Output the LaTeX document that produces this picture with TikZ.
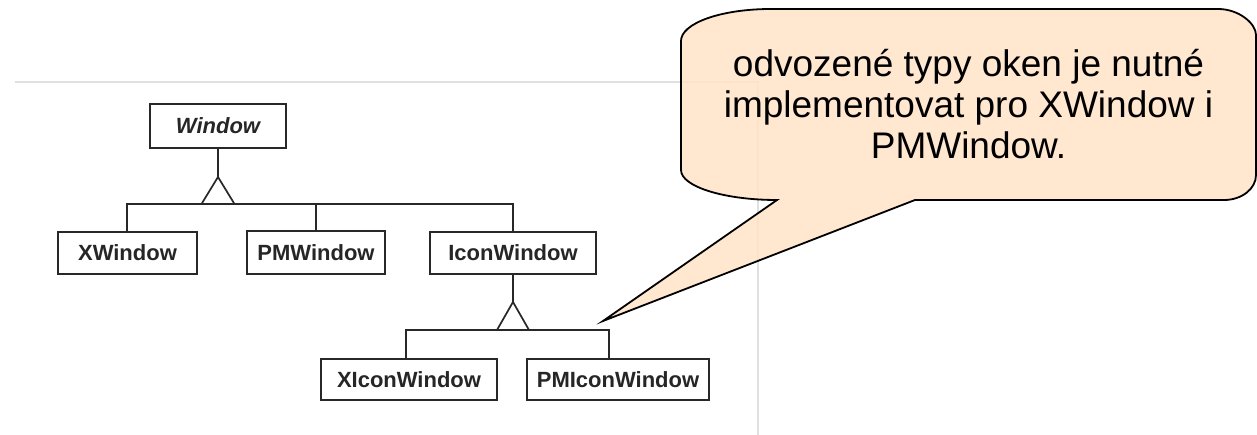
\documentclass[tikz,border=0pt]{standalone}
\usepackage{fontspec}
\setmainfont{Liberation Sans}
\newfontfamily\umlfont{Liberation Sans}
\newfontfamily\callfont{Liberation Sans}
\definecolor{calloutfill}{RGB}{255,228,201}
\definecolor{panelline}{RGB}{224,224,224}
\definecolor{umlline}{RGB}{40,40,40}
\tikzset{
  cls/.style={draw=umlline, line width=1.8pt, fill=white, inner sep=0pt,
    font=\umlfont\fontsize{22}{26}\selectfont\bfseries, text=black!85},
  conn/.style={draw=umlline, line width=1.7pt},
  gentri/.style={draw=umlline, line width=1.7pt, fill=white, line join=miter},
  panel/.style={draw=panelline, line width=1.6pt},
  callout/.style={draw=black, line width=1.8pt, fill=calloutfill, fill opacity=0.88, line join=miter},
  notetext/.style={font=\callfont\fontsize{37}{41}\selectfont, align=center, inner sep=0pt, anchor=north}
}
\begin{document}
\begin{tikzpicture}[x=1pt,y=-1pt]
\useasboundingbox (0,0) rectangle (1257,435);
% background panel frame
\draw[panel] (15,82) -- (758,82) -- (758,435);

% classes
\node[cls, minimum width=136pt, minimum height=44pt] (win) at (218,126) {\itshape Window};
\node[cls, minimum width=139pt, minimum height=42pt] (xw) at (127.5,253) {XWindow};
\node[cls, minimum width=138pt, minimum height=43pt] (pmw) at (316,252.5) {PMWindow};
\node[cls, minimum width=166pt, minimum height=42pt] (iw) at (513,253) {IconWindow};
\node[cls, minimum width=176pt, minimum height=41pt] (xiw) at (409,379.5) {XIconWindow};
\node[cls, minimum width=182pt, minimum height=41pt] (pmiw) at (618,379.5) {PMIconWindow};

% generalization 1
\coordinate (apex1) at (218,177);
\coordinate (bus1) at (218,204);
\draw[conn] (win.south) -- (apex1);
\draw[conn] (xw.north -| 127,0) -- (127,204) -- (iw.north |- bus1) -- (iw.north);
\draw[conn] (pmw.north) -- (pmw.north |- bus1);
\draw[gentri] (apex1) -- (201.5,204) -- (234.5,204) -- cycle;

% generalization 2
\coordinate (apex2) at (513,302);
\coordinate (bus2) at (513,330);
\draw[conn] (iw.south) -- (apex2);
\draw[conn] (xiw.north -| 406,0) -- (406,330) -- (609,330) -- (pmiw.north -| 609,0);
\draw[gentri] (apex2) -- (497,330) -- (529,330) -- cycle;

% callout
\coordinate (tip) at (603,321);
\path[callout]
  (771,9) -- (1218,9)
  .. controls (1239,9) and (1256,23.6) .. (1256,35)
  -- (1256,175)
  .. controls (1256,188.8) and (1241.7,200) .. (1224,200)
  -- (915,200) -- (tip) -- (777,200)
  .. controls (724,200) and (681,186.6) .. (681,170)
  -- (681,41)
  .. controls (681,23.3) and (720.7,9) .. (771,9)
  -- cycle;
\node[notetext] (note) at (968.5,49.2) {odvozené typy oken je nutné\\implementovat pro XWindow i\\PMWindow.};
\end{tikzpicture}
\end{document}
